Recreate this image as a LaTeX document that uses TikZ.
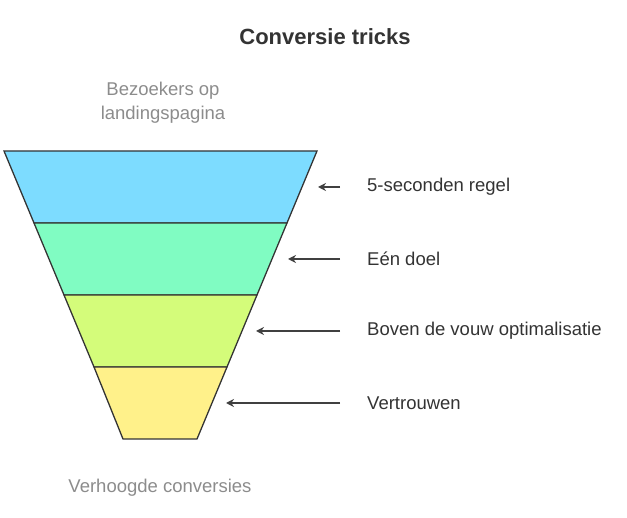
\documentclass[tikz,border=0pt]{standalone}
\usepackage{fontspec}
\setmainfont{Liberation Sans}
\usetikzlibrary{arrows.meta}
\begin{document}
\begin{tikzpicture}[x=1pt,y=-1pt,
  band/.style={draw=black!80,line width=1.3pt},
  lab/.style={anchor=west,font=\fontsize{18.5}{22}\selectfont,text=black!80},
  gray/.style={font=\fontsize{18.5}{24}\selectfont,text=black!45,align=center},
  arr/.style={-{Stealth[length=8pt,width=8pt]},line width=1.3pt,draw=black!75}]
\useasboundingbox (0,0) rectangle (627,518);
\definecolor{cA}{HTML}{7DDCFF}\definecolor{cB}{HTML}{80FCC2}
\definecolor{cC}{HTML}{D4FC7A}\definecolor{cD}{HTML}{FFF18A}
\node[font=\bfseries\fontsize{22}{26}\selectfont,text=black!80] (t) at (325,37) {Conversie tricks};
\node[gray] (top) at (163,103) {Bezoekers op\\landingspagina};
\node[gray] (bot) at (160,488) {Verhoogde conversies};
\filldraw[band,fill=cA] (4,151) -- (317,151) -- (287,223) -- (34,223) -- cycle;
\filldraw[band,fill=cB] (34,223) -- (287,223) -- (257,295) -- (64,295) -- cycle;
\filldraw[band,fill=cC] (64,295) -- (257,295) -- (227,367) -- (94,367) -- cycle;
\filldraw[band,fill=cD] (94,367) -- (227,367) -- (197,439) -- (123,439) -- cycle;
\coordinate (e1) at (318,187);\coordinate (e2) at (288,259);
\coordinate (e3) at (256,331);\coordinate (e4) at (226,403);
\node[lab,inner sep=0pt] (l1) at (367,187) {5-seconden regel};
\node[lab,inner sep=0pt] (l2) at (367,259) {Eén doel};
\node[lab,inner sep=0pt] (l3) at (367,331) {Boven de vouw optimalisatie};
\node[lab,inner sep=0pt] (l4) at (367,403) {Vertrouwen};
\foreach \i in {1,...,4}{\draw[arr] ([xshift=-27pt]l\i.west) -- (e\i);}
\end{tikzpicture}
\end{document}
